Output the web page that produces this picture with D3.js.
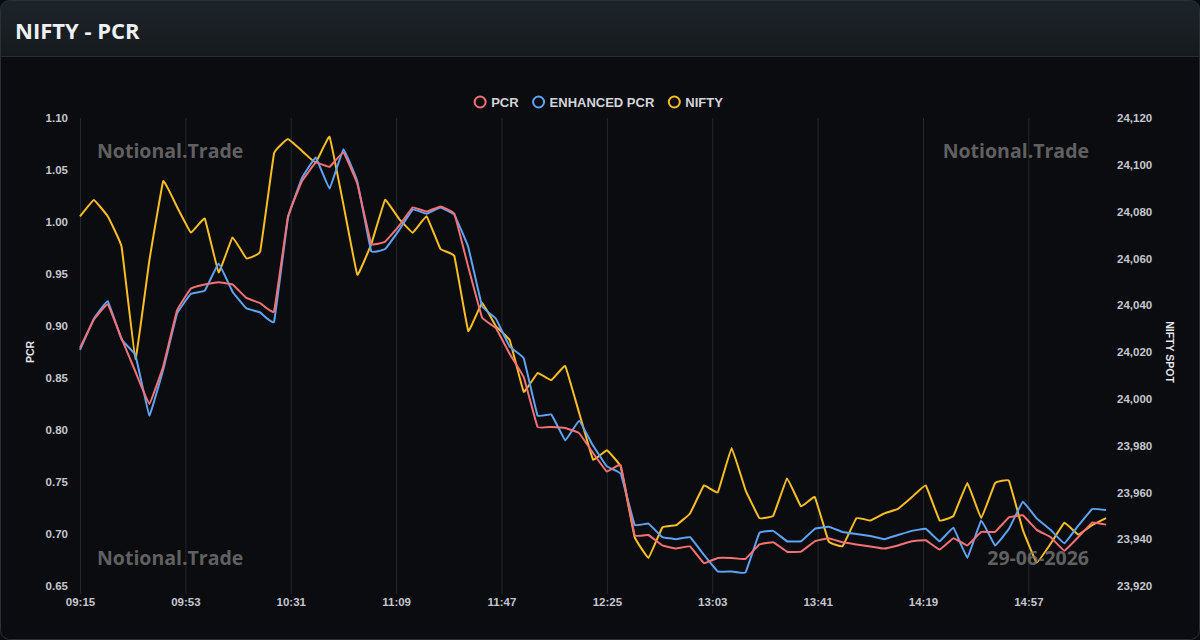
<!DOCTYPE html>
<html>
<head>
<meta charset="utf-8">
<script src="https://cdn.jsdelivr.net/npm/d3@7/dist/d3.min.js"></script>
<style>
  html, body { margin: 0; padding: 0; background: #0b0c0f; }
  #chart { width: 1200px; height: 640px; }
</style>
</head>
<body>
<div id="chart"></div>
<script>
// 5-minute samples from 09:15 to 15:25
const startTime = "09:15";
const stepMinutes = 5;

const pcr = [0.879, 0.906, 0.921, 0.888, 0.856, 0.825, 0.861, 0.915, 0.936, 0.940,
  0.942, 0.940, 0.927, 0.922, 0.914, 1.005, 1.039, 1.057, 1.053, 1.067,
  1.037, 0.979, 0.981, 0.996, 1.014, 1.010, 1.015, 1.008, 0.957, 0.908,
  0.898, 0.873, 0.851, 0.803, 0.803, 0.802, 0.797, 0.778, 0.760, 0.766,
  0.699, 0.699, 0.689, 0.686, 0.688, 0.672, 0.677, 0.677, 0.676, 0.690,
  0.692, 0.683, 0.683, 0.693, 0.696, 0.692, 0.690, 0.688, 0.686, 0.689,
  0.693, 0.694, 0.685, 0.696, 0.689, 0.702, 0.702, 0.716, 0.718, 0.704,
  0.697, 0.684, 0.697, 0.711, 0.709];

const enhancedPcr = [0.877, 0.907, 0.924, 0.887, 0.872, 0.814, 0.858, 0.912, 0.931, 0.934,
  0.960, 0.933, 0.917, 0.913, 0.904, 1.004, 1.042, 1.062, 1.032, 1.070,
  1.039, 0.972, 0.974, 0.992, 1.012, 1.008, 1.014, 1.007, 0.976, 0.919,
  0.907, 0.880, 0.869, 0.814, 0.815, 0.790, 0.809, 0.785, 0.765, 0.758,
  0.709, 0.710, 0.697, 0.695, 0.697, 0.680, 0.664, 0.664, 0.663, 0.701,
  0.703, 0.693, 0.693, 0.705, 0.707, 0.702, 0.700, 0.698, 0.695, 0.699,
  0.703, 0.705, 0.693, 0.706, 0.677, 0.713, 0.689, 0.705, 0.731, 0.715,
  0.704, 0.691, 0.708, 0.724, 0.723];

const nifty = [24078, 24085, 24078, 24065, 24017, 24059, 24093, 24082, 24071, 24077,
  24054, 24069, 24060, 24063, 24105, 24111, 24106, 24101, 24112, 24083,
  24053, 24066, 24085, 24077, 24071, 24078, 24064, 24061, 24029, 24041,
  24031, 24025, 24003, 24011, 24008, 24014, 23994, 23974, 23978, 23971,
  23941, 23932, 23945, 23946, 23951, 23963, 23960, 23979, 23961, 23949,
  23950, 23966, 23954, 23958, 23939, 23937, 23949, 23948, 23951, 23953,
  23958, 23963, 23948, 23950, 23964, 23949, 23964, 23965, 23944, 23930,
  23938, 23947, 23942, 23946, 23949];

const xTickLabels = ["09:15", "09:53", "10:31", "11:09", "11:47", "12:25", "13:03", "13:41", "14:19", "14:57"];
const pcrTicks = [0.65, 0.70, 0.75, 0.80, 0.85, 0.90, 0.95, 1.00, 1.05, 1.10];
const niftyTicks = [23920, 23940, 23960, 23980, 24000, 24020, 24040, 24060, 24080, 24100, 24120];

const seriesNames = ["PCR", "ENHANCED PCR", "NIFTY"];
const seriesColors = ["#f47174", "#5ea4f6", "#f8be22"];

const toMin = s => { const [h, m] = s.split(":").map(Number); return h * 60 + m; };
const t0 = toMin(startTime);

const W = 1200, H = 640;
const plot = { left: 80, right: 1106, top: 118, bottom: 586 };

const svg = d3.select("#chart").append("svg")
  .attr("width", W).attr("height", H)
  .style("display", "block");

const defs = svg.append("defs");
const grad = defs.append("linearGradient").attr("id", "hdr").attr("x1", 0).attr("x2", 0).attr("y1", 0).attr("y2", 1);
grad.append("stop").attr("offset", "0%").attr("stop-color", "#1d2429");
grad.append("stop").attr("offset", "100%").attr("stop-color", "#151a1e");
defs.append("clipPath").attr("id", "card").append("rect")
  .attr("x", 0.5).attr("y", 0.5).attr("width", W - 1).attr("height", H - 1).attr("rx", 9);

// card + header
const card = svg.append("g").attr("clip-path", "url(#card)");
card.append("rect").attr("width", W).attr("height", H).attr("fill", "#0b0c0f");
card.append("rect").attr("width", W).attr("height", 56).attr("fill", "url(#hdr)");
card.append("line").attr("x1", 0).attr("x2", W).attr("y1", 56.5).attr("y2", 56.5).attr("stroke", "#262d33");
svg.append("rect").attr("x", 0.5).attr("y", 0.5).attr("width", W - 1).attr("height", H - 1)
  .attr("rx", 9).attr("fill", "none").attr("stroke", "#2a3036");

svg.append("text").attr("x", 15).attr("y", 39)
  .attr("font-family", "'Open Sans', 'Noto Sans', sans-serif")
  .attr("font-weight", 700).attr("font-size", 22).attr("fill", "#eef1f3")
  .text("NIFTY - PCR");

// scales
const x = d3.scaleLinear().domain([0, (pcr.length - 1) * stepMinutes]).range([plot.left, plot.right]);
const yL = d3.scaleLinear().domain([0.65, 1.10]).range([plot.bottom, plot.top]);
const yR = d3.scaleLinear().domain([23920, 24120]).range([plot.bottom, plot.top]);

const axisFont = "'Liberation Sans', Arial, sans-serif";

// vertical grid + x axis
const xAxis = d3.axisBottom(x)
  .tickValues(xTickLabels.map(l => toMin(l) - t0))
  .tickFormat((d, i) => xTickLabels[i])
  .tickSize(-(plot.bottom - plot.top))
  .tickPadding(10);
const gx = svg.append("g").attr("transform", `translate(0,${plot.bottom + 8})`).call(xAxis);
gx.select(".domain").remove();
gx.selectAll(".tick line").attr("stroke", "#24272c").attr("y2", 0).attr("y1", -(plot.bottom - plot.top + 8));
gx.selectAll(".tick text").attr("fill", "#c3c7ce").attr("font-size", 11.5).attr("font-weight", 700)
  .attr("font-family", axisFont).attr("dy", "0.2em");

const gl = svg.append("g").attr("transform", `translate(${plot.left},0)`)
  .call(d3.axisLeft(yL).tickValues(pcrTicks).tickFormat(d3.format(".2f")).tickSize(0).tickPadding(12));
gl.select(".domain").remove();
gl.selectAll(".tick text").attr("fill", "#c3c7ce").attr("font-size", 11.5).attr("font-weight", 700).attr("font-family", axisFont);

const gr = svg.append("g").attr("transform", `translate(${plot.right},0)`)
  .call(d3.axisRight(yR).tickValues(niftyTicks).tickFormat(d3.format(",")).tickSize(0).tickPadding(11));
gr.select(".domain").remove();
gr.selectAll(".tick text").attr("fill", "#c3c7ce").attr("font-size", 11.5).attr("font-weight", 700).attr("font-family", axisFont);

svg.append("text").attr("transform", `translate(34,${(plot.top + plot.bottom) / 2}) rotate(-90)`)
  .attr("text-anchor", "middle").attr("fill", "#e4e6ea").attr("font-size", 10.5).attr("font-weight", 700)
  .attr("font-family", axisFont).text("PCR");
svg.append("text").attr("transform", `translate(1166,${(plot.top + plot.bottom) / 2}) rotate(90)`)
  .attr("text-anchor", "middle").attr("fill", "#e4e6ea").attr("font-size", 10.5).attr("font-weight", 700)
  .attr("font-family", axisFont).text("NIFTY SPOT");

// lines
const rows = pcr.map((v, i) => ({ t: i * stepMinutes, pcr: v, enh: enhancedPcr[i], nifty: nifty[i] }));
const mk = (key, scale) => d3.line().x(d => x(d.t)).y(d => scale(d[key])).curve(d3.curveCardinal.tension(0.8));

const lines = [
  { key: "nifty", scale: yR, color: seriesColors[2] },
  { key: "enh", scale: yL, color: seriesColors[1] },
  { key: "pcr", scale: yL, color: seriesColors[0] }
];
svg.append("g").selectAll("path").data(lines).join("path")
  .attr("d", d => mk(d.key, d.scale)(rows))
  .attr("fill", "none").attr("stroke", d => d.color).attr("stroke-width", 2)
  .attr("stroke-linejoin", "round");

// watermarks
const wm = svg.append("g").attr("font-family", "'Open Sans', 'Noto Sans', sans-serif")
  .attr("font-weight", 700).attr("font-size", 19.5).attr("fill", "rgba(120,120,120,0.8)");
wm.append("text").attr("x", 97).attr("y", 158).text("Notional.Trade");
wm.append("text").attr("x", 1089).attr("y", 158).attr("text-anchor", "end").text("Notional.Trade");
wm.append("text").attr("x", 97).attr("y", 565).text("Notional.Trade");
wm.append("text").attr("x", 1089).attr("y", 565).attr("text-anchor", "end").text("29-06-2026");

// legend, centred above the plot
const legend = svg.append("g").attr("font-family", axisFont).attr("font-size", 13).attr("font-weight", 700);
let lx = 0;
seriesNames.forEach((name, i) => {
  const g = legend.append("g").attr("transform", `translate(${lx},0)`);
  g.append("circle").attr("cx", 6).attr("cy", 0).attr("r", 5.5)
    .attr("fill", "none").attr("stroke", seriesColors[i]).attr("stroke-width", 2);
  const t = g.append("text").attr("x", 17).attr("y", 4.7).attr("fill", "#d2d5da").text(name);
  lx += 17 + t.node().getComputedTextLength() + (i < seriesNames.length - 1 ? 14 : 0);
});
legend.attr("transform", `translate(${598.5 - lx / 2},102)`);
</script>
</body>
</html>
